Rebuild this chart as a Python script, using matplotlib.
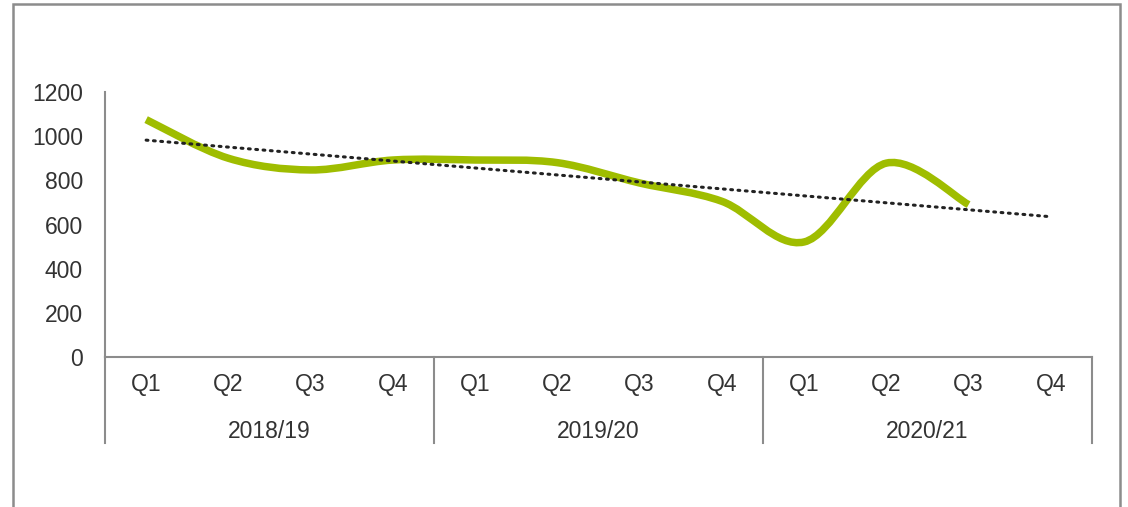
import matplotlib.pyplot as plt
import matplotlib.patches as patches
from matplotlib.path import Path
from matplotlib.lines import Line2D
import numpy as np

plt.rcParams["font.family"] = ["Liberation Sans", "DejaVu Sans"]

years = ["2018/19", "2019/20", "2020/21"]
quarters = ["Q1", "Q2", "Q3", "Q4"]
values = [1075, 900, 847, 892, 892, 880, 788, 705, 521, 878, 690]

text_col = "#333333"
axis_col = "#8c8c8c"
green = "#9fbd00"

fig = plt.figure(figsize=(11.28, 5.07), dpi=100)
ax = fig.add_axes([105 / 1128, 1 - 357 / 507, (1092 - 105) / 1128, (357 - 92) / 507])

n_slots = len(years) * len(quarters)
ax.set_xlim(0, n_slots)
ax.set_ylim(0, 1200)

# smoothed series (Excel style bezier through the points)
x = np.arange(len(values)) + 0.5
y = np.array(values, dtype=float)
verts = [(x[0], y[0])]
codes = [Path.MOVETO]
for i in range(len(x) - 1):
    p0 = np.array([x[max(i - 1, 0)], y[max(i - 1, 0)]])
    p1 = np.array([x[i], y[i]])
    p2 = np.array([x[i + 1], y[i + 1]])
    p3 = np.array([x[min(i + 2, len(x) - 1)], y[min(i + 2, len(x) - 1)]])
    c1 = p1 + (p2 - p0) / 6
    c2 = p2 - (p3 - p1) / 6
    verts += [tuple(c1), tuple(c2), tuple(p2)]
    codes += [Path.CURVE4] * 3
ax.add_patch(patches.PathPatch(Path(verts, codes), fill=False, edgecolor=green,
                               lw=5.4, capstyle="butt", zorder=3))

# linear trend, extended to the last quarter
k, b = np.polyfit(x, y, 1)
xt = np.array([0.5, n_slots - 0.5])
ax.plot(xt, k * xt + b, color="#222222", lw=2.2, linestyle=(0, (0.6, 1.8)),
        dash_capstyle="round", zorder=4)

for side in ["top", "right"]:
    ax.spines[side].set_visible(False)
for side in ["left", "bottom"]:
    ax.spines[side].set_color(axis_col)
    ax.spines[side].set_linewidth(1.5)

ax.set_yticks(np.arange(0, 1201, 200))
ax.tick_params(axis="y", length=0, pad=16, labelsize=16.5, labelcolor=text_col)
ax.set_xticks([])

# category labels
for g, yr in enumerate(years):
    for q, ql in enumerate(quarters):
        ax.text(g * 4 + q + 0.5, -27 / 0.2208, ql, ha="center", va="center",
                fontsize=16.5, color=text_col, clip_on=False)
    ax.text(g * 4 + 2, -74 / 0.2208, yr, ha="center", va="center",
            fontsize=16.5, color=text_col, clip_on=False)
for g in range(len(years) + 1):
    ax.add_line(Line2D([g * 4, g * 4], [0, -86 / 0.2208], color=axis_col, lw=1.5,
                       clip_on=False))

# outer frame
fig.patches.append(patches.Rectangle((13 / 1128, -0.1), (1120 - 13) / 1128,
                                     1.1 - 4 / 507, transform=fig.transFigure,
                                     fill=False, edgecolor="#8c8c8c", lw=1.8))

fig.savefig("out.png", dpi=100)
